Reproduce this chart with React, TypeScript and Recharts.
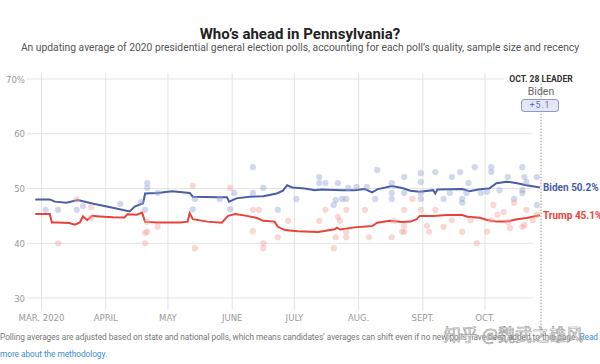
import React from "react";
import {
  ComposedChart,
  Line,
  Scatter,
  XAxis,
  YAxis,
  ReferenceLine,
} from "recharts";

// days counted from Mar 1, 2020
const monthTicks = [0, 31, 61, 92, 122, 153, 184, 214];
const monthLabels = ["MAR. 2020", "APRIL", "MAY", "JUNE", "JULY", "AUG.", "SEPT.", "OCT."];
const yTicks = [30, 40, 50, 60, 70];
const leaderDay = 241; // Oct 28

const bidenDays = [-3, 4, 6.5, 12, 17.5, 25, 31.5, 35.5, 42.5, 45, 49, 50, 56, 63, 71.5, 73, 85, 89.5, 90.5, 94, 100.5, 107, 113.5, 116.5, 118.5, 121, 127, 132, 135, 145, 151, 156, 159.5, 162, 169, 174, 178, 182.5, 189, 190, 191, 197, 203, 206.5, 211.5, 216, 219.5, 224.5, 229.5, 234, 240.5];
const bidenAvg = [48.0, 48.0, 47.6, 47.4, 47.9, 47.2, 46.7, 46.4, 45.8, 46.7, 47.3, 49.1, 49.2, 49.5, 49.2, 48.5, 48.4, 48.4, 47.6, 48.2, 48.5, 48.6, 49.1, 49.6, 50.6, 50.2, 50.0, 49.7, 49.8, 49.7, 49.7, 49.9, 49.3, 49.85, 50.45, 50.1, 49.6, 49.4, 49.7, 49.1, 49.8, 49.85, 49.9, 49.5, 49.85, 50.0, 50.95, 51.25, 50.95, 50.6, 50.2];

const trumpDays = [-3, 4, 5, 7.5, 13.5, 16, 18.5, 20, 22, 24.5, 28, 34.5, 40, 41.5, 46, 48.5, 50, 56, 67, 70.5, 71.5, 73, 80, 87, 90, 93.5, 99, 104, 107, 112.5, 114, 117.5, 123.5, 133.5, 141.5, 142.5, 144, 151, 159.5, 162, 168, 174, 178, 181, 182.5, 189, 195.5, 203, 205.5, 211.5, 215, 219.5, 224.5, 229.5, 234, 240.5];
const trumpAvg = [45.35, 45.35, 43.8, 43.8, 43.7, 43.4, 43.8, 44.9, 44.25, 45.0, 44.9, 44.75, 44.7, 45.3, 45.2, 45.6, 43.9, 43.8, 43.8, 43.95, 45.5, 44.4, 43.95, 43.75, 45.0, 45.35, 45.0, 44.6, 44.1, 43.95, 43.0, 42.4, 42.2, 42.05, 42.55, 42.85, 42.5, 42.9, 43.15, 43.75, 44.1, 43.9, 43.95, 44.4, 45.0, 45.0, 45.15, 45.15, 44.85, 44.65, 44.25, 43.95, 43.95, 44.4, 44.6, 45.1];

const bidenPollDays = [2, 8, 17, 20, 38, 48, 50, 51, 51, 56, 73, 74, 86, 91, 93, 102, 102, 107, 114, 123, 134, 134, 137, 141, 142, 143, 145, 147, 148, 152, 157, 161, 162, 169, 169, 169, 175, 175, 183, 183, 183, 183, 190, 194, 197, 198, 202, 203, 203, 205, 206, 209, 212, 215, 217, 217, 221, 225, 228, 232, 232, 232, 233, 234, 239, 239];
const bidenPollValues = [46.1, 46.1, 46.1, 46.8, 47.2, 47.5, 46.1, 51.0, 50.1, 49.2, 46.2, 48.1, 48.1, 46.2, 49.2, 53.9, 49.2, 50.1, 46.1, 48.1, 52.1, 51.0, 51.0, 47.0, 47.9, 51.0, 48.1, 48.1, 50.1, 50.3, 50.3, 48.1, 53.4, 51.0, 49.2, 48.1, 52.1, 49.2, 52.8, 51.2, 49.2, 48.1, 53.0, 48.1, 49.2, 52.1, 53.0, 48.1, 47.4, 49.2, 51.0, 53.9, 49.2, 49.4, 53.9, 53.0, 49.7, 52.1, 48.1, 53.9, 49.7, 49.2, 52.1, 51.2, 52.1, 47.0];

const trumpPollDays = [8, 17, 24, 24, 50, 51, 50, 51, 56, 73, 74, 91, 102, 105, 102, 107, 107, 114, 119, 134, 137, 141, 142, 143, 144, 147, 147, 147, 156, 158, 169, 170, 174, 175, 175, 175, 179, 183, 186, 187, 190, 194, 198, 203, 207, 210, 215, 217, 218, 220, 223, 225, 226, 228, 232, 233, 234, 237, 239];
const trumpPollValues = [40.0, 48.0, 46.6, 44.6, 41.9, 42.1, 40.0, 43.9, 43.0, 50.5, 39.1, 50.1, 46.1, 46.1, 42.2, 40.0, 39.1, 41.1, 44.1, 44.1, 46.1, 39.1, 41.1, 44.8, 44.1, 46.1, 42.1, 41.1, 46.1, 41.1, 41.1, 44.1, 42.1, 46.1, 43.2, 42.1, 48.1, 46.1, 43.2, 42.1, 46.1, 43.0, 44.2, 42.1, 44.2, 40.0, 42.1, 44.2, 47.0, 45.2, 45.7, 43.9, 42.8, 47.4, 43.0, 43.3, 46.1, 44.2, 45.2];

const BLUE = "#4a5ea8";
const RED = "#e8423b";

const toPoints = (days: number[], vals: number[]) =>
  days.map((d, i) => ({ d, v: vals[i] }));

const bidenLine = toPoints(bidenDays, bidenAvg);
const trumpLine = toPoints(trumpDays, trumpAvg);
const bidenPolls = toPoints(bidenPollDays, bidenPollValues);
const trumpPolls = toPoints(trumpPollDays, trumpPollValues);

const axisFont = "'Liberation Sans Narrow', 'DejaVu Sans Condensed', sans-serif";

const XTick = (props: any) => {
  const i = monthTicks.indexOf(props.payload.value);
  return (
    <text x={props.x} y={321} textAnchor="middle" fontSize={9.5} fill="#9a9a9a" fontFamily={axisFont}>
      {monthLabels[i]}
    </text>
  );
};

const YTick = (props: any) => (
  <text x={25} y={props.y} dy={3.5} textAnchor="end" fontSize={9.5} fill="#9a9a9a" fontFamily={axisFont}>
    {props.payload.value === 70 ? "70%" : props.payload.value}
  </text>
);

const dotShape = (color: string) => (p: any) =>
  <circle cx={p.cx} cy={p.cy} r={3.1} fill={color} fillOpacity={0.45} />;

const endLabel = (name: string, color: string, last: number) => (p: any) =>
  p.index === last ? (
    <text x={p.x + 3} y={p.y} dy={4} fill={color} fontSize={10} fontWeight={700} fontFamily="Roboto, sans-serif">
      {name} {p.value}%
    </text>
  ) : (
    <g />
  );

export default function App() {
  return (
    <div
      style={{
        position: "absolute",
        left: 0,
        top: 0,
        width: 600,
        height: 364,
        background: "#fff",
        overflow: "hidden",
        fontFamily: "Roboto, sans-serif",
      }}
    >
      <div style={{ position: "absolute", top: 26, width: 600, textAlign: "center", fontSize: 15, fontWeight: 700, color: "#222", lineHeight: "16px" }}>
        Who’s ahead in Pennsylvania?
      </div>
      <div style={{ position: "absolute", top: 42, width: 600, textAlign: "center", fontSize: 10.3, color: "#555", lineHeight: "12px" }}>
        An updating average of 2020 presidential general election polls, accounting for each poll’s quality, sample size and recency
      </div>

      <ComposedChart width={600} height={364} margin={{ top: 79, right: 59, bottom: 0, left: 0 }}>
        <XAxis
          dataKey="d"
          type="number"
          domain={[-7, leaderDay]}
          ticks={monthTicks}
          interval={0}
          height={66}
          axisLine={false}
          tickLine={false}
          tick={<XTick />}
        />
        <YAxis
          type="number"
          domain={[30, 70]}
          ticks={yTicks}
          width={27}
          axisLine={false}
          tickLine={false}
          tick={<YTick />}
        />
        {yTicks.map((v) => (
          <ReferenceLine
            key={"h" + v}
            segment={[{ x: -7, y: v }, { x: v === 70 ? 223 : 237, y: v }]}
            stroke="#e3e3e3"
            strokeWidth={1}
            ifOverflow="visible"
          />
        ))}
        {monthTicks.map((d) => (
          <ReferenceLine
            key={"v" + d}
            segment={[{ x: d, y: 71.1 }, { x: d, y: 27.8 }]}
            stroke="#e3e3e3"
            strokeWidth={1}
            ifOverflow="visible"
          />
        ))}
        <ReferenceLine
          segment={[{ x: leaderDay, y: 70.8 }, { x: leaderDay, y: 22.8 }]}
          stroke="#999"
          strokeDasharray="1.5 1.5"
          ifOverflow="visible"
        />
        <Scatter data={bidenPolls} dataKey="v" isAnimationActive={false} shape={dotShape("#9aa6d6")} />
        <Scatter data={trumpPolls} dataKey="v" isAnimationActive={false} shape={dotShape("#f3a3a0")} />
        <Line
          data={trumpLine}
          dataKey="v"
          type="linear"
          stroke={RED}
          strokeWidth={2}
          dot={false}
          isAnimationActive={false}
          label={endLabel("Trump", RED, trumpLine.length - 1)}
        />
        <Line
          data={bidenLine}
          dataKey="v"
          type="linear"
          stroke={BLUE}
          strokeWidth={2}
          dot={false}
          isAnimationActive={false}
          label={endLabel("Biden", BLUE, bidenLine.length - 1)}
        />
      </ComposedChart>

      <div style={{ position: "absolute", left: 506, top: 74, width: 70, textAlign: "center", fontSize: 8.6, fontWeight: 700, color: "#333", background: "#fff", lineHeight: "10px", whiteSpace: "nowrap" }}>
        OCT. 28 LEADER
      </div>
      <div style={{ position: "absolute", left: 511, top: 85, width: 60, textAlign: "center", fontSize: 10.5, color: "#666", lineHeight: "13px" }}>
        Biden
      </div>
      <div
        style={{
          position: "absolute",
          left: 521,
          top: 99,
          width: 38,
          height: 13,
          boxSizing: "border-box",
          border: "1px solid #8e99c9",
          borderRadius: 3,
          background: "#e2e6f5",
          textAlign: "center",
          fontSize: 8.5,
          lineHeight: "11px",
          color: "#6170a8",
          letterSpacing: 1,
        }}
      >
        +5.1
      </div>

      <div style={{ position: "absolute", left: 0, top: 331, fontSize: 8.3, letterSpacing: -0.05, color: "#777", whiteSpace: "nowrap", lineHeight: "12px" }}>
        Polling averages are adjusted based on state and national polls, which means candidates’ averages can shift even if no new polls have been added to this page.{" "}
        <span style={{ color: "#3d8ec9" }}>Read</span>
      </div>
      <div style={{ position: "absolute", left: 0, top: 348, fontSize: 8.3, letterSpacing: -0.05, color: "#3d8ec9", whiteSpace: "nowrap", lineHeight: "12px" }}>
        more about the methodology.
      </div>
      <div
        style={{
          position: "absolute",
          left: 444,
          top: 323,
          fontSize: 17,
          fontFamily: "'Noto Sans CJK SC', sans-serif",
          color: "rgba(255,255,255,0.75)",
          WebkitTextStroke: "0.7px rgba(120,120,120,0.7)",
          whiteSpace: "nowrap",
          lineHeight: "22px",
        }}
      >
        知乎 @魏武之雄风
      </div>
    </div>
  );
}
